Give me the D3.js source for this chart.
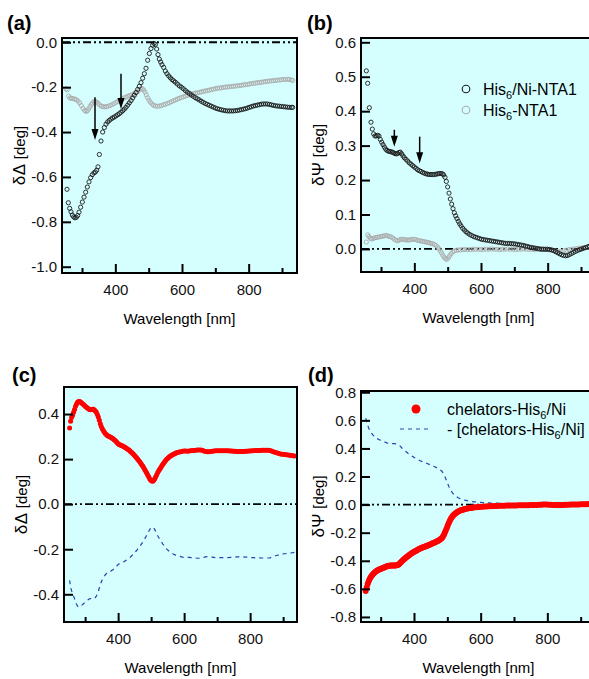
<!DOCTYPE html>
<html>
<head>
<meta charset="utf-8">
<script src="https://cdn.jsdelivr.net/npm/d3@7"></script>
<style>
  body { margin: 0; background: #fff; }
  svg { display: block; font-family: Arial, "Liberation Sans", sans-serif; }
</style>
</head>
<body>
<svg id="chart"></svg>
<script>
// ---- data: [wavelength nm, value deg] ----
const hisNiDelta = [[255,-0.655],[259,-0.715],[263,-0.74],[267,-0.755],[271,-0.77],[275,-0.778],[279,-0.782],[283,-0.78],[287,-0.772],[291,-0.757],[296,-0.735],[301,-0.712],[306,-0.69],[311,-0.668],[316,-0.645],[321,-0.622],[326,-0.603],[331,-0.59],[336,-0.582],[340,-0.578],[344,-0.57],[348,-0.555],[352,-0.5],[357,-0.44],[362,-0.4],[367,-0.38],[372,-0.365],[377,-0.355],[382,-0.348],[387,-0.342],[392,-0.337],[397,-0.333],[402,-0.328],[407,-0.323],[412,-0.318],[417,-0.312],[422,-0.305],[427,-0.298],[432,-0.29],[437,-0.28],[442,-0.27],[447,-0.26],[452,-0.248],[457,-0.236],[462,-0.224],[467,-0.21],[472,-0.196],[477,-0.18],[482,-0.16],[487,-0.14],[492,-0.116],[497,-0.08],[502,-0.05],[507,-0.028],[512,-0.013],[516,-0.005],[520,-0.01],[524,-0.03],[528,-0.055],[532,-0.075],[536,-0.088],[540,-0.1],[545,-0.112],[550,-0.128],[555,-0.14],[560,-0.15],[565,-0.158],[570,-0.166],[575,-0.172],[580,-0.178],[586,-0.186],[592,-0.194],[598,-0.2],[604,-0.207],[610,-0.215],[616,-0.222],[622,-0.228],[628,-0.235],[634,-0.241],[640,-0.247],[646,-0.252],[652,-0.257],[658,-0.263],[664,-0.268],[670,-0.273],[676,-0.277],[682,-0.281],[688,-0.285],[694,-0.289],[700,-0.293],[706,-0.296],[712,-0.299],[718,-0.301],[724,-0.303],[730,-0.305],[736,-0.306],[742,-0.306],[748,-0.306],[754,-0.306],[760,-0.305],[766,-0.304],[772,-0.302],[778,-0.3],[784,-0.298],[790,-0.296],[796,-0.293],[802,-0.29],[808,-0.287],[814,-0.284],[820,-0.282],[826,-0.28],[832,-0.278],[838,-0.276],[844,-0.275],[850,-0.275],[856,-0.275],[862,-0.277],[868,-0.279],[874,-0.281],[880,-0.283],[886,-0.284],[892,-0.285],[898,-0.286],[904,-0.287],[910,-0.288],[916,-0.289],[922,-0.29],[928,-0.29],[932,-0.29]];

const hisDelta = [[252,-0.208],[256,-0.212],[260,-0.24],[264,-0.248],[268,-0.25],[273,-0.251],[278,-0.253],[283,-0.256],[288,-0.262],[293,-0.27],[298,-0.282],[303,-0.294],[308,-0.304],[312,-0.308],[316,-0.305],[320,-0.297],[324,-0.287],[328,-0.277],[332,-0.27],[336,-0.265],[340,-0.264],[344,-0.267],[348,-0.272],[353,-0.279],[358,-0.285],[363,-0.287],[368,-0.288],[373,-0.287],[378,-0.285],[384,-0.282],[390,-0.278],[396,-0.273],[402,-0.268],[408,-0.263],[414,-0.258],[420,-0.253],[426,-0.248],[432,-0.244],[438,-0.24],[444,-0.237],[450,-0.234],[456,-0.23],[462,-0.225],[467,-0.22],[472,-0.213],[477,-0.207],[481,-0.207],[485,-0.213],[489,-0.222],[493,-0.235],[497,-0.247],[501,-0.258],[505,-0.267],[510,-0.275],[515,-0.281],[520,-0.284],[526,-0.285],[532,-0.284],[538,-0.282],[544,-0.279],[550,-0.276],[556,-0.273],[562,-0.269],[568,-0.265],[574,-0.261],[580,-0.257],[586,-0.253],[592,-0.25],[598,-0.246],[604,-0.243],[610,-0.24],[616,-0.237],[622,-0.234],[628,-0.231],[634,-0.229],[640,-0.227],[646,-0.225],[652,-0.223],[658,-0.221],[664,-0.219],[670,-0.217],[676,-0.215],[682,-0.213],[688,-0.211],[694,-0.209],[700,-0.207],[706,-0.205],[712,-0.204],[718,-0.203],[724,-0.201],[730,-0.2],[736,-0.199],[742,-0.198],[748,-0.197],[754,-0.196],[760,-0.195],[766,-0.194],[772,-0.193],[778,-0.192],[784,-0.19],[790,-0.189],[796,-0.188],[802,-0.186],[808,-0.184],[814,-0.183],[820,-0.182],[826,-0.18],[832,-0.179],[838,-0.178],[844,-0.177],[850,-0.175],[856,-0.174],[862,-0.173],[868,-0.172],[874,-0.171],[880,-0.17],[886,-0.169],[892,-0.168],[898,-0.167],[904,-0.166],[910,-0.166],[916,-0.165],[922,-0.166],[928,-0.168],[932,-0.17]];

const hisNiPsi = [[256,0.517],[260,0.481],[265,0.41],[270,0.368],[274,0.348],[278,0.334],[282,0.328],[286,0.328],[290,0.33],[294,0.328],[298,0.318],[302,0.31],[306,0.303],[310,0.296],[314,0.29],[318,0.286],[322,0.284],[326,0.283],[330,0.282],[334,0.281],[338,0.279],[342,0.277],[346,0.276],[350,0.277],[354,0.28],[358,0.281],[362,0.276],[366,0.27],[370,0.265],[375,0.26],[380,0.255],[385,0.25],[390,0.246],[395,0.242],[400,0.238],[405,0.234],[410,0.23],[415,0.227],[420,0.225],[425,0.222],[430,0.22],[435,0.218],[440,0.217],[445,0.216],[450,0.216],[455,0.216],[460,0.216],[465,0.217],[470,0.218],[475,0.219],[480,0.219],[484,0.218],[488,0.215],[492,0.208],[496,0.196],[500,0.18],[504,0.162],[508,0.145],[512,0.13],[516,0.117],[520,0.105],[524,0.096],[528,0.088],[532,0.08],[536,0.073],[540,0.067],[545,0.06],[550,0.055],[555,0.05],[560,0.046],[566,0.042],[572,0.039],[578,0.036],[584,0.034],[590,0.032],[596,0.03],[602,0.028],[608,0.027],[614,0.026],[620,0.025],[626,0.024],[632,0.023],[638,0.022],[644,0.021],[650,0.02],[656,0.019],[662,0.018],[668,0.017],[674,0.016],[680,0.016],[686,0.016],[692,0.015],[698,0.015],[704,0.014],[710,0.013],[716,0.012],[722,0.011],[728,0.01],[734,0.008],[740,0.007],[746,0.005],[752,0.004],[758,0.003],[764,0.002],[770,0.001],[776,0],[782,-0.001],[788,-0.001],[794,-0.001],[800,-0.001],[806,-0.002],[812,-0.003],[818,-0.005],[824,-0.008],[830,-0.011],[836,-0.014],[842,-0.017],[848,-0.019],[854,-0.02],[860,-0.019],[866,-0.016],[872,-0.013],[878,-0.01],[884,-0.007],[890,-0.004],[896,-0.002],[902,0],[908,0.002],[914,0.004],[920,0.006],[926,0.008]];

const hisPsi = [[256,0.02],[260,0.041],[264,0.036],[268,0.031],[272,0.029],[276,0.03],[280,0.032],[285,0.033],[290,0.034],[295,0.035],[300,0.036],[305,0.037],[310,0.038],[315,0.039],[320,0.038],[325,0.036],[330,0.035],[335,0.032],[340,0.028],[345,0.025],[350,0.024],[355,0.026],[360,0.028],[365,0.028],[370,0.027],[375,0.026],[380,0.026],[385,0.026],[390,0.027],[395,0.028],[400,0.028],[405,0.027],[410,0.025],[415,0.024],[420,0.023],[425,0.022],[430,0.021],[435,0.02],[440,0.019],[445,0.018],[450,0.016],[455,0.015],[460,0.013],[465,0.01],[470,0.005],[474,0],[478,-0.006],[482,-0.012],[486,-0.019],[490,-0.025],[494,-0.029],[498,-0.03],[502,-0.026],[506,-0.02],[510,-0.014],[515,-0.009],[520,-0.006],[526,-0.004],[532,-0.003],[538,-0.003],[545,-0.002],[552,-0.002],[560,-0.002],[568,-0.002],[576,-0.001],[584,-0.001],[592,-0.001],[600,-0.002],[608,-0.001],[616,-0.001],[624,-0.001],[632,0],[640,-0.001],[648,-0.001],[656,-0.002],[664,-0.001],[672,-0.001],[680,0],[688,-0.001],[696,-0.001],[704,-0.002],[712,-0.001],[720,-0.001],[728,0],[736,-0.001],[744,-0.001],[752,-0.001],[760,-0.002],[768,-0.001],[776,-0.001],[784,0],[792,-0.001],[800,-0.001],[808,-0.002],[816,-0.004],[824,-0.006],[832,-0.008],[840,-0.007],[848,-0.005],[856,-0.004],[864,-0.002],[872,-0.001],[880,0],[888,0.001],[896,0.002],[904,0.003],[912,0.004],[920,0.005],[926,0.007]];

const chelDelta = [[253,0.338],[256,0.368],[259,0.385],[262,0.395],[265,0.408],[268,0.42],[271,0.435],[274,0.444],[277,0.452],[280,0.456],[283,0.456],[286,0.453],[289,0.45],[292,0.446],[295,0.442],[298,0.438],[301,0.434],[304,0.43],[307,0.427],[310,0.423],[313,0.42],[316,0.419],[319,0.42],[322,0.421],[325,0.421],[328,0.418],[331,0.414],[334,0.408],[337,0.398],[340,0.387],[343,0.372],[346,0.357],[349,0.345],[352,0.335],[355,0.327],[358,0.32],[361,0.314],[364,0.309],[367,0.305],[370,0.302],[373,0.3],[376,0.298],[379,0.296],[382,0.293],[385,0.29],[388,0.286],[391,0.282],[394,0.278],[397,0.273],[400,0.268],[403,0.265],[406,0.263],[409,0.261],[412,0.259],[415,0.257],[418,0.255],[421,0.252],[424,0.249],[427,0.246],[430,0.243],[433,0.24],[436,0.236],[439,0.232],[442,0.228],[445,0.224],[448,0.219],[451,0.214],[454,0.209],[457,0.204],[460,0.198],[463,0.193],[466,0.187],[469,0.181],[472,0.174],[475,0.168],[478,0.161],[481,0.153],[484,0.145],[487,0.137],[490,0.128],[493,0.12],[496,0.112],[499,0.106],[502,0.103],[505,0.102],[508,0.106],[511,0.113],[514,0.122],[517,0.131],[520,0.14],[523,0.148],[526,0.155],[529,0.162],[532,0.169],[535,0.176],[538,0.182],[541,0.188],[544,0.194],[547,0.199],[550,0.203],[553,0.207],[556,0.211],[559,0.214],[562,0.217],[565,0.219],[568,0.222],[571,0.224],[574,0.226],[577,0.228],[580,0.229],[585,0.231],[590,0.233],[595,0.235],[600,0.236],[605,0.236],[610,0.235],[615,0.236],[620,0.237],[625,0.238],[630,0.238],[635,0.239],[640,0.24],[645,0.24],[650,0.24],[655,0.239],[660,0.236],[665,0.234],[670,0.233],[675,0.233],[680,0.234],[685,0.235],[690,0.236],[695,0.237],[700,0.237],[705,0.237],[710,0.237],[715,0.237],[720,0.237],[725,0.237],[730,0.237],[735,0.237],[740,0.236],[745,0.236],[750,0.235],[755,0.235],[760,0.234],[765,0.234],[770,0.234],[775,0.234],[780,0.234],[785,0.235],[790,0.235],[795,0.236],[800,0.236],[805,0.237],[810,0.237],[815,0.238],[820,0.238],[825,0.238],[830,0.238],[835,0.239],[840,0.239],[845,0.239],[850,0.239],[855,0.239],[860,0.238],[865,0.236],[870,0.233],[875,0.23],[880,0.228],[885,0.226],[890,0.224],[895,0.222],[900,0.221],[905,0.22],[910,0.219],[915,0.218],[920,0.217],[925,0.216],[930,0.215],[934,0.214]];

const chelPsi = [[255,-0.615],[258,-0.59],[261,-0.565],[264,-0.545],[267,-0.53],[270,-0.518],[273,-0.507],[276,-0.498],[279,-0.49],[282,-0.483],[285,-0.477],[288,-0.472],[291,-0.468],[294,-0.464],[297,-0.461],[300,-0.458],[303,-0.455],[306,-0.452],[309,-0.449],[312,-0.446],[315,-0.443],[318,-0.44],[321,-0.438],[324,-0.436],[327,-0.435],[330,-0.434],[333,-0.434],[336,-0.434],[339,-0.434],[342,-0.434],[345,-0.433],[348,-0.432],[351,-0.43],[354,-0.426],[357,-0.42],[360,-0.413],[363,-0.405],[366,-0.398],[369,-0.391],[372,-0.385],[375,-0.379],[378,-0.373],[381,-0.367],[384,-0.362],[387,-0.357],[390,-0.352],[393,-0.347],[396,-0.342],[399,-0.338],[402,-0.334],[405,-0.33],[408,-0.326],[411,-0.322],[414,-0.318],[417,-0.314],[420,-0.311],[423,-0.308],[426,-0.305],[429,-0.302],[432,-0.3],[435,-0.297],[438,-0.294],[441,-0.291],[444,-0.288],[447,-0.285],[450,-0.282],[453,-0.279],[456,-0.276],[459,-0.273],[462,-0.27],[465,-0.267],[468,-0.263],[471,-0.259],[474,-0.255],[477,-0.25],[480,-0.245],[483,-0.239],[486,-0.23],[489,-0.218],[492,-0.203],[495,-0.186],[498,-0.168],[501,-0.15],[504,-0.133],[507,-0.117],[510,-0.103],[513,-0.092],[516,-0.082],[519,-0.074],[522,-0.067],[525,-0.061],[528,-0.056],[531,-0.051],[534,-0.047],[537,-0.044],[540,-0.041],[543,-0.038],[546,-0.036],[549,-0.034],[552,-0.032],[556,-0.03],[560,-0.028],[564,-0.026],[568,-0.024],[572,-0.023],[576,-0.021],[580,-0.02],[585,-0.019],[590,-0.018],[595,-0.017],[600,-0.016],[606,-0.015],[612,-0.014],[618,-0.013],[624,-0.012],[630,-0.011],[636,-0.011],[642,-0.01],[648,-0.01],[654,-0.009],[660,-0.009],[666,-0.008],[672,-0.008],[678,-0.007],[684,-0.007],[690,-0.007],[696,-0.006],[702,-0.006],[708,-0.006],[714,-0.005],[720,-0.005],[726,-0.005],[732,-0.004],[738,-0.004],[744,-0.004],[750,-0.003],[756,-0.003],[762,-0.002],[768,-0.002],[774,-0.001],[780,-0.001],[786,0],[792,0],[798,0],[804,-0.001],[810,-0.001],[816,-0.002],[822,-0.002],[828,-0.002],[834,-0.002],[840,-0.002],[846,-0.002],[852,-0.001],[858,-0.001],[864,-0.001],[870,0],[876,0],[882,0],[888,0.001],[894,0.001],[900,0.002],[906,0.002],[912,0.003],[918,0.003],[924,0.004],[930,0.004],[936,0.005],[942,0.005]];

// arrows: [wavelength, start value, tip value]
const arrowsA = [[339, -0.245, -0.435], [417, -0.14, -0.297]];
const arrowsB = [[340, 0.346, 0.297], [416, 0.326, 0.249]];

// ticks
const xMajorTicks = [400, 600, 800];
const xMinorTicks = [300, 500, 700, 900];
const yTicksA = [0, -0.2, -0.4, -0.6, -0.8, -1.0];
const yTicksB = [0, 0.1, 0.2, 0.3, 0.4, 0.5, 0.6];
const yTicksC = [-0.4, -0.2, 0, 0.2, 0.4];
const yTicksD = [-0.8, -0.6, -0.4, -0.2, 0, 0.2, 0.4, 0.6, 0.8];

const width = 589;
const height = 679;
const bg = "#d5ffff";
const fmt = (d) => d.toFixed(1);

const svg = d3.select("#chart").attr("width", width).attr("height", height);

function DrawPanel(p) {
  const x = d3.scaleLinear().domain(p.xDomain).range([p.left, p.right]);
  const y = d3.scaleLinear().domain(p.yDomain).range([p.bottom, p.top]);
  const g = svg.append("g");

  g.append("rect")
    .attr("x", p.left).attr("y", p.top)
    .attr("width", p.right - p.left).attr("height", p.bottom - p.top)
    .attr("fill", bg);

  g.append("clipPath").attr("id", "clip-" + p.id)
    .append("rect")
    .attr("x", p.left).attr("y", p.top)
    .attr("width", p.right - p.left).attr("height", p.bottom - p.top);

  const plot = g.append("g").attr("clip-path", `url(#clip-${p.id})`);

  // zero line (dash-dot-dot)
  plot.append("line")
    .attr("x1", p.left).attr("x2", p.right)
    .attr("y1", y(0)).attr("y2", y(0))
    .attr("stroke", "#000")
    .attr("stroke-width", 1.8)
    .attr("stroke-dasharray", "8,3,2,3,2,3");

  // axes, ticks pointing inward
  const xAxis = g.append("g")
    .attr("transform", `translate(0,${p.bottom})`)
    .call(d3.axisBottom(x).tickValues(xMajorTicks).tickSize(-9).tickPadding(11).tickFormat((d) => d));
  const xMinor = g.append("g")
    .attr("transform", `translate(0,${p.bottom})`)
    .call(d3.axisBottom(x).tickValues(xMinorTicks).tickSize(-5).tickFormat(""));
  const yAxis = g.append("g")
    .attr("transform", `translate(${p.left},0)`)
    .call(d3.axisLeft(y).tickValues(p.yTicks).tickSize(-9).tickPadding(5).tickFormat(fmt));

  [xAxis, xMinor, yAxis].forEach((a) => {
    a.select(".domain").remove();
    a.selectAll("line").attr("stroke-width", 2);
    a.selectAll("text").style("font-size", "15px").attr("fill", "#111");
  });

  // frame
  g.append("rect")
    .attr("x", p.left).attr("y", p.top)
    .attr("width", p.right - p.left).attr("height", p.bottom - p.top)
    .attr("fill", "none")
    .attr("stroke", "#000")
    .attr("stroke-width", 2);

  // axis titles
  g.append("text")
    .attr("x", (p.left + p.right) / 2)
    .attr("y", p.bottom + 51)
    .attr("text-anchor", "middle")
    .style("font-size", "15px")
    .text("Wavelength [nm]");

  const yt = g.append("text")
    .attr("transform", `translate(${p.left - 37},${(p.top + p.bottom) / 2}) rotate(-90)`)
    .attr("text-anchor", "middle")
    .style("font-size", "15px");
  yt.append("tspan").style("font-size", "17px").attr("letter-spacing", 0.5).text(p.yGreek);
  yt.append("tspan").text(" [deg]");

  // panel letter
  g.append("text")
    .attr("x", p.labelX).attr("y", p.labelY)
    .style("font-size", "20px")
    .style("font-weight", "bold")
    .text(p.label);

  return { x, y, g, plot };
}

function OpenCircles(panel, data, color) {
  panel.plot.append("g")
    .selectAll("circle")
    .data(data)
    .enter()
    .append("circle")
    .attr("cx", (d) => panel.x(d[0]))
    .attr("cy", (d) => panel.y(d[1]))
    .attr("r", 2.1)
    .attr("fill", "none")
    .attr("stroke", color)
    .attr("stroke-width", 0.9);
}

function FilledDots(panel, data, r) {
  panel.plot.append("g")
    .selectAll("circle")
    .data(data)
    .enter()
    .append("circle")
    .attr("cx", (d) => panel.x(d[0]))
    .attr("cy", (d) => panel.y(d[1]))
    .attr("r", r)
    .attr("fill", "#ff0000");
}

function NegDashed(panel, data) {
  // "- [chelators-His6/Ni]" is the same spectrum with the sign flipped
  const line = d3.line()
    .x((d) => panel.x(d[0]))
    .y((d) => panel.y(-d[1]));
  panel.plot.append("path")
    .datum(data)
    .attr("d", line)
    .attr("fill", "none")
    .attr("stroke", "#2244b0")
    .attr("stroke-width", 1.2)
    .attr("stroke-dasharray", "4,4");
}

function Arrows(panel, arrows) {
  arrows.forEach((a) => {
    const ax = panel.x(a[0]);
    const y0 = panel.y(a[1]);
    const y1 = panel.y(a[2]);
    const dir = y1 > y0 ? 1 : -1;
    panel.g.append("line")
      .attr("x1", ax).attr("x2", ax)
      .attr("y1", y0).attr("y2", y1 - dir * 8)
      .attr("stroke", "#000")
      .attr("stroke-width", 1.5);
    panel.g.append("path")
      .attr("d", `M${ax - 3.5},${y1 - dir * 11} L${ax + 3.5},${y1 - dir * 11} L${ax},${y1} Z`)
      .attr("fill", "#000");
  });
}

function SubText(g, x, y, parts) {
  // parts: [text, sub, text]
  const t = g.append("text").attr("x", x).attr("y", y).style("font-size", "16px");
  t.append("tspan").text(parts[0]);
  t.append("tspan").attr("dy", 4).style("font-size", "11px").text(parts[1]);
  t.append("tspan").attr("dy", -4).text(parts[2]);
}

// (a)
const pa = DrawPanel({
  id: "a", left: 62, right: 297, top: 38, bottom: 273,
  xDomain: [240, 945], yDomain: [-1.028, 0.019],
  yTicks: yTicksA, yGreek: "δΔ", label: "(a)", labelX: 7, labelY: 30,
});
OpenCircles(pa, hisDelta, "#aaaaaa");
OpenCircles(pa, hisNiDelta, "#1a1a1a");
Arrows(pa, arrowsA);

// (b)
const pb = DrawPanel({
  id: "b", left: 361, right: 596, top: 38, bottom: 272,
  xDomain: [240, 945], yDomain: [-0.067, 0.6125],
  yTicks: yTicksB, yGreek: "δΨ", label: "(b)", labelX: 307, labelY: 30,
});
OpenCircles(pb, hisPsi, "#aaaaaa");
OpenCircles(pb, hisNiPsi, "#1a1a1a");
Arrows(pb, arrowsB);

pb.g.append("circle").attr("cx", 466).attr("cy", 89).attr("r", 3.8)
  .attr("fill", "none").attr("stroke", "#1a1a1a").attr("stroke-width", 1.1);
SubText(pb.g, 483, 95, ["His", "6", "/Ni-NTA1"]);
pb.g.append("circle").attr("cx", 466).attr("cy", 110).attr("r", 3.8)
  .attr("fill", "none").attr("stroke", "#aaaaaa").attr("stroke-width", 1.1);
SubText(pb.g, 483, 116, ["His", "6", "-NTA1"]);

// (c)
const pc = DrawPanel({
  id: "c", left: 64, right: 297, top: 387, bottom: 622,
  xDomain: [236, 942], yDomain: [-0.523, 0.52],
  yTicks: yTicksC, yGreek: "δΔ", label: "(c)", labelX: 12, labelY: 382,
});
NegDashed(pc, chelDelta);
FilledDots(pc, chelDelta, 2.5);

// (d)
const pd = DrawPanel({
  id: "d", left: 361, right: 596, top: 391, bottom: 622,
  xDomain: [241, 946], yDomain: [-0.836, 0.809],
  yTicks: yTicksD, yGreek: "δΨ", label: "(d)", labelX: 308, labelY: 382,
});
NegDashed(pd, chelPsi);
FilledDots(pd, chelPsi, 3);

pd.g.append("circle").attr("cx", 416).attr("cy", 409).attr("r", 4.5).attr("fill", "#ff0000");
SubText(pd.g, 447, 415, ["chelators-His", "6", "/Ni"]);
pd.g.append("line").attr("x1", 400).attr("x2", 428).attr("y1", 429).attr("y2", 429)
  .attr("stroke", "#2244b0").attr("stroke-width", 1.2).attr("stroke-dasharray", "4,4");
SubText(pd.g, 447, 435, ["- [chelators-His", "6", "/Ni]"]);
</script>
</body>
</html>
